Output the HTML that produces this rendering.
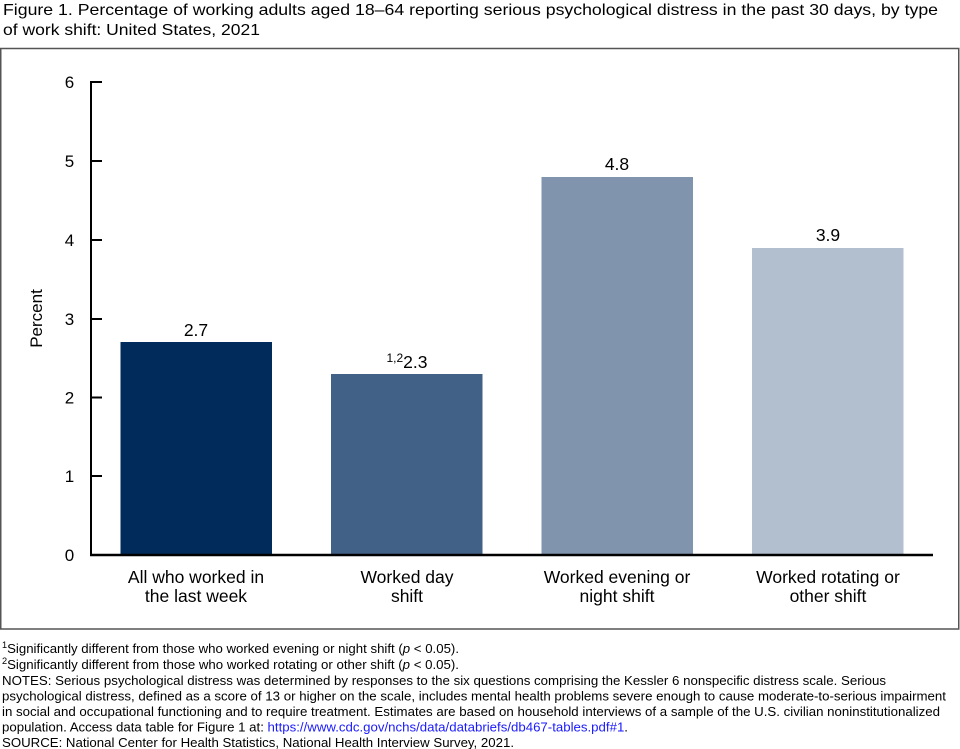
<!DOCTYPE html>
<html>
<head>
<meta charset="utf-8">
<style>
  html,body{margin:0;padding:0;background:#fff;}
  svg{display:block;}
  text{font-family:"Liberation Sans", Arial, sans-serif;fill:#000;}
</style>
</head>
<body>
<svg width="960" height="749" viewBox="0 0 960 749" xmlns="http://www.w3.org/2000/svg">
  <!-- Title -->
  <text x="3" y="15" font-size="16" textLength="935" lengthAdjust="spacingAndGlyphs">Figure 1. Percentage of working adults aged 18–64 reporting serious psychological distress in the past 30 days, by type</text>
  <text x="3" y="35" font-size="16" textLength="257" lengthAdjust="spacingAndGlyphs">of work shift: United States, 2021</text>

  <!-- Frame -->
  <rect x="0.75" y="48.5" width="958" height="580.5" fill="none" stroke="#555" stroke-width="1.5"/>

  <!-- Bars -->
  <rect x="120.5" y="342" width="151.5" height="213" fill="#002b5a"/>
  <rect x="331" y="374" width="151.5" height="181" fill="#426187"/>
  <rect x="541.5" y="177" width="151.5" height="378" fill="#8094ad"/>
  <rect x="752" y="248" width="151.5" height="307" fill="#b2bfcf"/>

  <!-- Axes -->
  <line x1="91" y1="81" x2="91" y2="556" stroke="#000" stroke-width="2"/>
  <line x1="90" y1="555" x2="933" y2="555" stroke="#000" stroke-width="2.5"/>
  <g stroke="#000" stroke-width="2">
    <line x1="91" y1="82" x2="102" y2="82"/>
    <line x1="91" y1="161" x2="102" y2="161"/>
    <line x1="91" y1="240" x2="102" y2="240"/>
    <line x1="91" y1="319" x2="102" y2="319"/>
    <line x1="91" y1="397.5" x2="102" y2="397.5"/>
    <line x1="91" y1="476" x2="102" y2="476"/>
  </g>

  <!-- Y tick labels -->
  <g font-size="17" text-anchor="middle">
    <text x="69.5" y="88">6</text>
    <text x="69.5" y="167">5</text>
    <text x="69.5" y="246">4</text>
    <text x="69.5" y="325">3</text>
    <text x="69.5" y="403.5">2</text>
    <text x="69.5" y="482">1</text>
    <text x="69.5" y="561">0</text>
  </g>

  <!-- Y axis title -->
  <text transform="translate(42,318.5) rotate(-90)" font-size="17" text-anchor="middle">Percent</text>

  <!-- Value labels -->
  <g font-size="17.5" text-anchor="middle">
    <text x="196" y="336">2.7</text>
    <text x="407" y="368"><tspan font-size="12" dy="-6">1,2</tspan><tspan dy="6">2.3</tspan></text>
    <text x="617" y="170">4.8</text>
    <text x="828" y="241">3.9</text>
  </g>

  <!-- X category labels -->
  <g font-size="17.5" text-anchor="middle">
    <text x="196" y="583">All who worked in</text>
    <text x="196" y="602">the last week</text>
    <text x="407" y="583">Worked day</text>
    <text x="407" y="602">shift</text>
    <text x="617" y="583">Worked evening or</text>
    <text x="617" y="602">night shift</text>
    <text x="828" y="583">Worked rotating or</text>
    <text x="828" y="602">other shift</text>
  </g>

  <!-- Footnotes -->
  <g font-size="13">
    <text x="2" y="653" textLength="457" lengthAdjust="spacingAndGlyphs"><tspan font-size="9" dy="-5">1</tspan><tspan dy="5">Significantly different from those who worked evening or night shift (</tspan><tspan font-style="italic">p</tspan><tspan> &lt; 0.05).</tspan></text>
    <text x="2" y="669" textLength="457" lengthAdjust="spacingAndGlyphs"><tspan font-size="9" dy="-5">2</tspan><tspan dy="5">Significantly different from those who worked rotating or other shift (</tspan><tspan font-style="italic">p</tspan><tspan> &lt; 0.05).</tspan></text>
    <text x="2" y="685" textLength="884" lengthAdjust="spacingAndGlyphs">NOTES: Serious psychological distress was determined by responses to the six questions comprising the Kessler 6 nonspecific distress scale. Serious</text>
    <text x="2" y="700.5" textLength="944" lengthAdjust="spacingAndGlyphs">psychological distress, defined as a score of 13 or higher on the scale, includes mental health problems severe enough to cause moderate-to-serious impairment</text>
    <text x="2" y="716" textLength="938" lengthAdjust="spacingAndGlyphs">in social and occupational functioning and to require treatment. Estimates are based on household interviews of a sample of the U.S. civilian noninstitutionalized</text>
    <text x="2" y="731.5" textLength="626" lengthAdjust="spacingAndGlyphs">population. Access data table for Figure 1 at: <tspan fill="#1a1aff">https://www.cdc.gov/nchs/data/databriefs/db467-tables.pdf#1</tspan>.</text>
    <text x="2" y="747" textLength="512" lengthAdjust="spacingAndGlyphs">SOURCE: National Center for Health Statistics, National Health Interview Survey, 2021.</text>
  </g>
</svg>
</body>
</html>
